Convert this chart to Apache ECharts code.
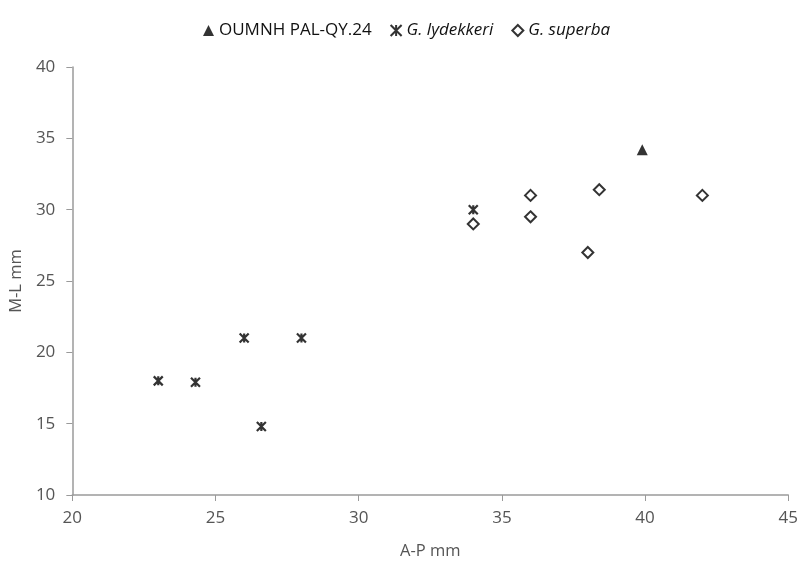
<!DOCTYPE html>
<html>
<head>
<meta charset="utf-8">
<script src="https://cdn.jsdelivr.net/npm/echarts@6/dist/echarts.min.js"></script>
<style>
  html, body { margin: 0; padding: 0; background: #fff; }
  #chart { width: 801px; height: 565px; }
</style>
</head>
<body>
<div id="chart"></div>
<script>
// values
const oumnh = [[39.9, 34.2]]
const lydekkeri = [[23, 18], [24.3, 17.9], [26, 21], [28, 21], [26.6, 14.8], [34, 30]]
const superba = [[34, 29], [36, 31], [36, 29.5], [38.4, 31.4], [38, 27], [42, 31]]
const xTicks = [20, 25, 30, 35, 40, 45]
const yTicks = [10, 15, 20, 25, 30, 35, 40]

const starPath = 'path://M0,0L10,10M10,0L0,10M5,0L5,10'
const font = 'Open Sans, Lato, sans-serif'

const chart = echarts.init(document.getElementById('chart'), null, { renderer: 'canvas' })

const axisCommon = {
  type: 'value',
  nameTextStyle: { color: '#555', fontSize: 16.5, fontFamily: font },
  axisLine: { show: true, lineStyle: { color: '#9a9a9a', width: 1.5 } },
  axisTick: { show: true, length: 6, lineStyle: { color: '#9a9a9a' } },
  axisLabel: { color: '#555', fontSize: 17, fontFamily: font },
  splitLine: { show: false },
}

chart.setOption({
  animation: false,
  backgroundColor: '#fff',
  grid: { left: 72, right: 8, top: 67, bottom: 65, containLabel: false },
  legend: {
    top: 17,
    left: 198,
    itemGap: 18,
    itemWidth: 11,
    itemHeight: 11,
    textStyle: { color: '#111', fontSize: 17, fontFamily: font },
    data: [
      { name: 'OUMNH PAL-QY.24' },
      { name: 'G. lydekkeri', textStyle: { fontStyle: 'italic' } },
      { name: 'G. superba', textStyle: { fontStyle: 'italic' } },
    ],
  },
  xAxis: {
    ...axisCommon,
    min: xTicks[0],
    max: xTicks[xTicks.length - 1],
    interval: 5,
    name: 'A-P mm',
    nameLocation: 'middle',
    nameGap: 48,
    axisLabel: { ...axisCommon.axisLabel, margin: 15 },
  },
  yAxis: {
    ...axisCommon,
    min: yTicks[0],
    max: yTicks[yTicks.length - 1],
    interval: 5,
    name: 'M-L mm',
    nameLocation: 'middle',
    nameGap: 45,
    axisLabel: { ...axisCommon.axisLabel, margin: 17 },
  },
  series: [
    {
      name: 'OUMNH PAL-QY.24',
      type: 'scatter',
      symbol: 'triangle',
      symbolSize: 11,
      itemStyle: { color: '#000' },
      data: oumnh,
    },
    {
      name: 'G. lydekkeri',
      type: 'scatter',
      symbol: starPath,
      symbolSize: 9,
      itemStyle: { color: 'rgba(0,0,0,0)', borderColor: '#000', borderWidth: 2.2 },
      data: lydekkeri,
    },
    {
      name: 'G. superba',
      type: 'scatter',
      symbol: 'diamond',
      symbolSize: 11,
      itemStyle: { color: '#fff', borderColor: '#000', borderWidth: 2 },
      data: superba,
    },
  ],
})
</script>
</body>
</html>
